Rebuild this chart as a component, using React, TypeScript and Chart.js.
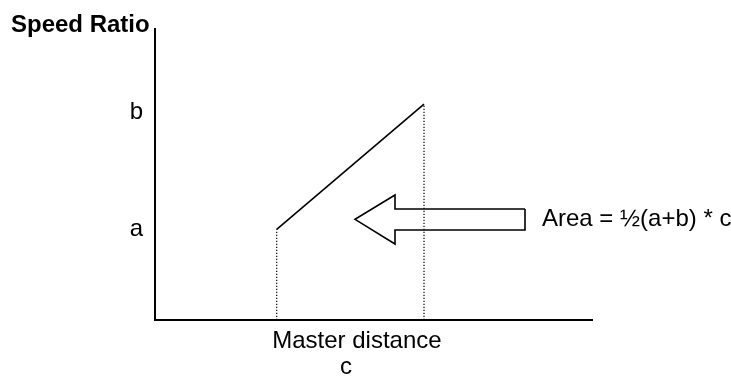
import React, { useEffect, useRef } from 'react';
import { Chart, registerables } from 'chart.js';

Chart.register(...registerables);

// ---- data (abstract units on both axes) ----
const X_MIN = 0;
const X_MAX = 10;
const Y_MIN = 0;
const Y_MAX = 10;

const masterStart = 2.785; // start of master distance c
const masterEnd = 6.156; // end of master distance c
const speedA = 3.117; // speed ratio a
const speedB = 7.42; // speed ratio b

const yTickValues = [3.117, 7.14];
const yTickLabels = ['a', 'b'];

const xTickValues = [4.62, 4.37];
const xTickLabels = [['Master distance'], ['', 'c']];

// hollow arrow outline pointing left (data units)
const arrowX = [8.467, 5.492, 5.492, 4.577, 5.492, 5.492, 8.467, 8.467];
const arrowY = [3.814, 3.814, 4.296, 3.46, 2.612, 3.093, 3.093, 3.814];

const areaLabel = 'Area = ½(a+b) * c';
const areaLabelX = 8.856;
const areaLabelY = 3.46;

const titleText = 'Speed Ratio';

const FONT = '"Liberation Sans", Arial, Helvetica, sans-serif';
const FONT_SIZE = 24;

const textPlugin = {
  id: 'freeText',
  afterDraw(chart: any) {
    const ctx = chart.ctx;
    const xs = chart.scales.x;
    const ys = chart.scales.y;
    ctx.save();
    ctx.fillStyle = '#000';
    ctx.textAlign = 'left';
    ctx.textBaseline = 'alphabetic';
    ctx.font = `bold ${FONT_SIZE}px ${FONT}`;
    ctx.fillText(titleText, 11, 32);
    ctx.font = `${FONT_SIZE}px ${FONT}`;
    ctx.textBaseline = 'middle';
    ctx.fillText(areaLabel, xs.getPixelForValue(areaLabelX), ys.getPixelForValue(areaLabelY));
    ctx.restore();
  },
};

export default function App() {
  const canvasRef = useRef<HTMLCanvasElement | null>(null);

  useEffect(() => {
    if (!canvasRef.current) return;
    const black = '#000000';
    const chart = new Chart(canvasRef.current, {
      type: 'scatter',
      data: {
        datasets: [
          {
            label: 'speed ratio',
            data: [
              { x: masterStart, y: speedA },
              { x: masterEnd, y: speedB },
            ],
            showLine: true,
            borderColor: black,
            borderWidth: 1.6,
            pointRadius: 0,
            fill: false,
          },
          {
            label: 'start',
            data: [
              { x: masterStart, y: Y_MIN },
              { x: masterStart, y: speedA },
            ],
            showLine: true,
            borderColor: black,
            borderWidth: 1.2,
            borderDash: [1.2, 1.8],
            pointRadius: 0,
            fill: false,
          },
          {
            label: 'end',
            data: [
              { x: masterEnd, y: Y_MIN },
              { x: masterEnd, y: speedB },
            ],
            showLine: true,
            borderColor: black,
            borderWidth: 1.2,
            borderDash: [1.2, 1.8],
            pointRadius: 0,
            fill: false,
          },
          {
            label: 'arrow',
            data: arrowX.map((x, i) => ({ x, y: arrowY[i] })),
            showLine: true,
            borderColor: black,
            borderWidth: 1.6,
            pointRadius: 0,
            fill: false,
            borderJoinStyle: 'miter',
          },
        ],
      },
      options: {
        animation: false,
        responsive: true,
        maintainAspectRatio: false,
        layout: { padding: { top: 29, right: 139, left: 0, bottom: 0 } },
        plugins: {
          legend: { display: false },
          tooltip: { enabled: false },
          title: { display: false },
        },
        scales: {
          x: {
            type: 'linear',
            min: X_MIN,
            max: X_MAX,
            grid: { display: false, drawTicks: false },
            border: { display: true, color: black, width: 2 },
            ticks: {
              autoSkip: false,
              maxRotation: 0,
              padding: 8,
              color: black,
              font: { family: FONT, size: FONT_SIZE, lineHeight: 1.083 },
              callback: (_v: any, i: number) => xTickLabels[i],
            },
            afterBuildTicks: (scale: any) => {
              scale.ticks = xTickValues.map((v) => ({ value: v }));
            },
            afterFit: (scale: any) => {
              scale.height = 56;
            },
          },
          y: {
            type: 'linear',
            min: Y_MIN,
            max: Y_MAX,
            grid: { display: false, drawTicks: false },
            border: { display: true, color: black, width: 2 },
            ticks: {
              autoSkip: false,
              padding: 12,
              color: black,
              font: { family: FONT, size: FONT_SIZE, lineHeight: 1.083 },
              callback: (_v: any, i: number) => yTickLabels[i],
            },
            afterBuildTicks: (scale: any) => {
              scale.ticks = yTickValues.map((v) => ({ value: v }));
            },
            afterFit: (scale: any) => {
              scale.width = 155;
            },
          },
        },
      },
      plugins: [textPlugin],
    });
    return () => chart.destroy();
  }, []);

  return (
    <div style={{ position: 'absolute', left: 0, top: 0, width: 731, height: 376, background: '#fff' }}>
      <canvas ref={canvasRef} />
    </div>
  );
}
